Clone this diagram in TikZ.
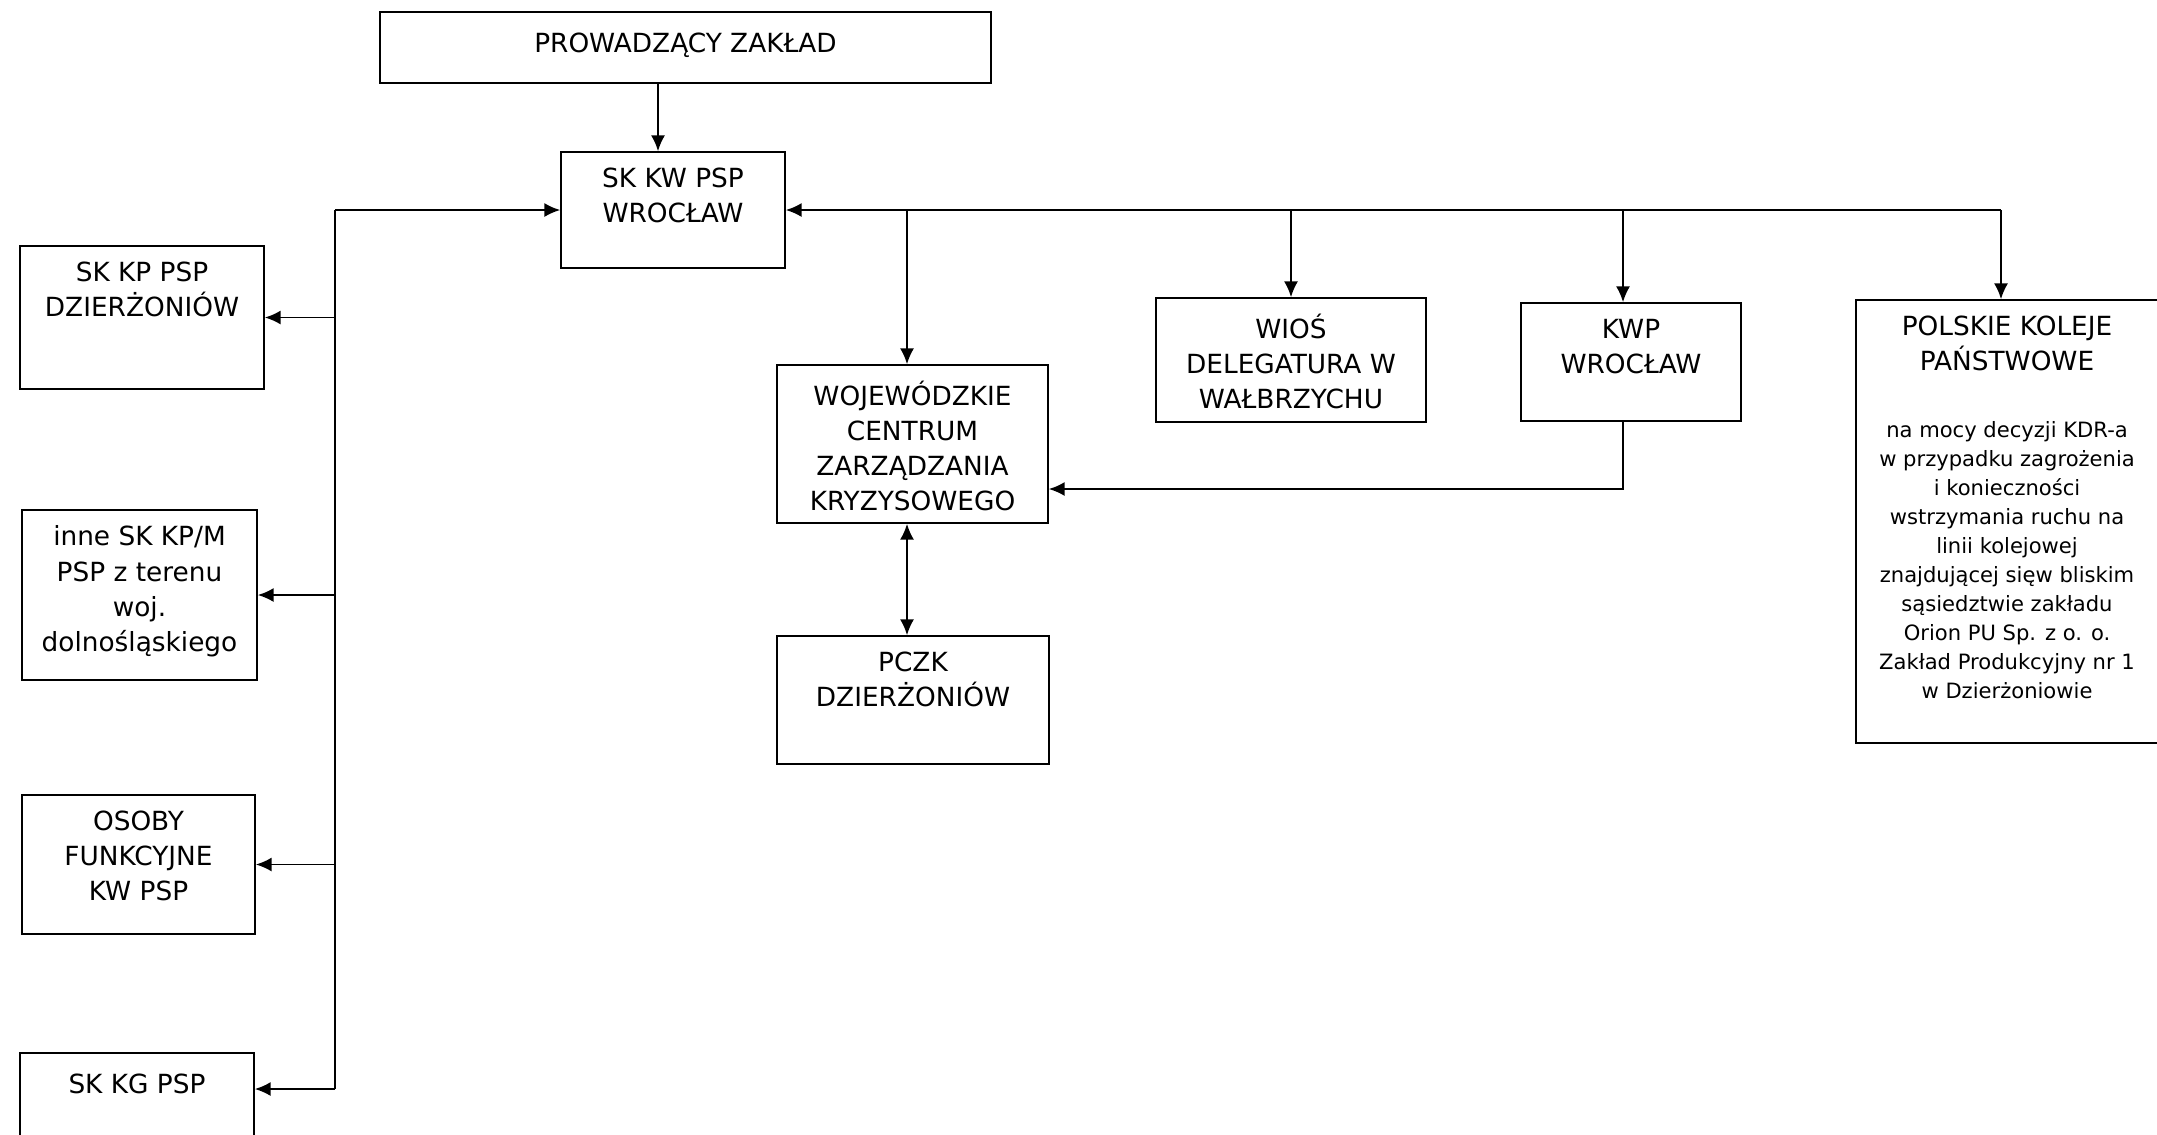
\documentclass[tikz,border=0pt]{standalone}
\usepackage{fontspec}
\setmainfont{DejaVu Sans}
\usetikzlibrary{arrows.meta}
\newcommand\boxfont{\fontsize{15pt}{20pt}\selectfont}
\newcommand\notefont{\fontsize{12pt}{16.5pt}\selectfont}

\begin{document}
\begin{tikzpicture}[x=0.02cm, y=-0.02cm]

\tikzset{box/.style = {draw, line width=1pt, inner sep=0pt}}
\tikzset{lbl/.style = {font=\boxfont, align=center, anchor=north, yshift=-9.3pt, inner sep=0pt, execute at begin node=\strut}}
\tikzset{edge/.style = {->, >={Latex[length=9pt,width=8pt]}, line width=1pt}}
\tikzset{link/.style = {line width=1pt}}

\useasboundingbox (0,0) rectangle (2157,1134);

%boxes
\node[box, minimum width=12.22cm, minimum height=1.42cm, label={[lbl]north:PROWADZĄCY ZAKŁAD}] (pz) at (685.5,47.5) {};
\node[box, minimum width=4.48cm, minimum height=2.32cm, label={[lbl]north:{SK KW PSP\\WROCŁAW}}] (skkw) at (673,210) {};
\node[box, minimum width=4.88cm, minimum height=2.86cm, label={[lbl]north:{SK KP PSP\\DZIERŻONIÓW}}] (skkp) at (142,317.5) {};
\node[box, minimum width=4.70cm, minimum height=3.40cm, label={[lbl]north:{inne SK KP/M\\PSP z terenu\\woj.\\dolnośląskiego}}] (inne) at (139.5,595) {};
\node[box, minimum width=4.66cm, minimum height=2.78cm, label={[lbl]north:{OSOBY\\FUNKCYJNE\\KW PSP}}] (osoby) at (138.5,864.5) {};
\node[box, minimum width=4.68cm, minimum height=3.20cm, label={[lbl]north:SK KG PSP}] (skkg) at (137,1133) {};
\node[box, minimum width=5.42cm, minimum height=3.16cm, label={[lbl]north:{WOJEWÓDZKIE\\CENTRUM\\ZARZĄDZANIA\\KRYZYSOWEGO}}] (woj) at (912.5,444) {};
\node[box, minimum width=5.44cm, minimum height=2.56cm, label={[lbl]north:{PCZK\\DZIERŻONIÓW}}] (pczk) at (913,700) {};
\node[box, minimum width=5.40cm, minimum height=2.48cm, label={[lbl]north:{WIOŚ\\DELEGATURA W\\WAŁBRZYCHU}}] (wios) at (1291,360) {};
\node[box, minimum width=4.40cm, minimum height=2.36cm, label={[lbl]north:{KWP\\WROCŁAW}}] (kwp) at (1631,362) {};
\node[box, minimum width=6.04cm, minimum height=8.86cm, label={[lbl]north:{POLSKIE KOLEJE\\PAŃSTWOWE}},
  label={[lbl, font=\notefont, yshift=-60.1pt]north:{na mocy decyzji KDR-a\\w przypadku zagrożenia\\i konieczności\\wstrzymania ruchu na\\linii kolejowej\\znajdującej sięw bliskim\\sąsiedztwie zakładu\\Orion PU Sp. z o. o.\\Zakład Produkcyjny nr 1\\w Dzierżoniowie}}] (pkp) at (2007,521.5) {};

%junctions
\coordinate (kwin) at ([xshift=-0.3cm]skkw.north);
\coordinate (wojin) at ([xshift=-0.11cm]woj.north);
\coordinate (kwpin) at ([xshift=-0.16cm]kwp.north);
\coordinate (pkpin) at ([xshift=-0.12cm]pkp.north);
\coordinate (trunk) at (335,210);
\coordinate (kgfork) at (335,1089);
\coordinate (busR) at (pkpin |- skkw.east);

%edges
\draw[edge] (pz.south -| kwin) -- (kwin);
\draw[edge] (trunk) -- (skkw.west);
\draw[link] (trunk) -- (kgfork);
\draw[edge] (trunk |- skkp.east) -- (skkp.east);
\draw[edge] (trunk |- inne.east) -- (inne.east);
\draw[edge] (trunk |- osoby.east) -- (osoby.east);
\draw[edge] (kgfork) -- (kgfork -| skkg.east);
\draw[edge] (busR) -- (skkw.east);
\draw[edge] (busR) -- (pkpin);
\draw[edge] (wojin |- busR) -- (wojin);
\draw[edge] (wios.north |- busR) -- (wios.north);
\draw[edge] (kwpin |- busR) -- (kwpin);
\draw[edge] (kwp.south -| kwpin) |- ([yshift=-0.9cm]woj.east);
\draw[edge, <->] (woj.south -| wojin) -- (pczk.north -| wojin);

\end{tikzpicture}
\end{document}
